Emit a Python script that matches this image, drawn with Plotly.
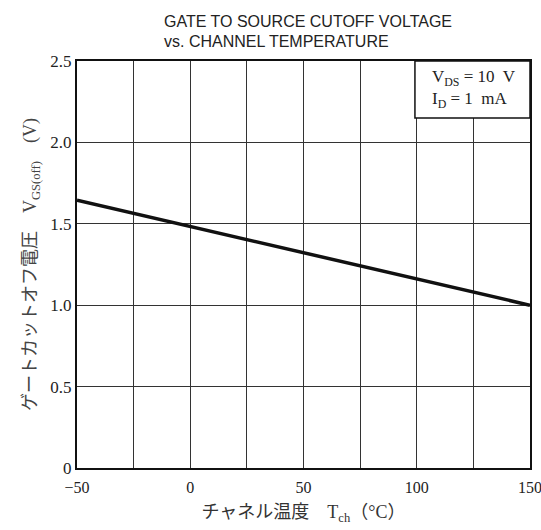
import plotly.graph_objects as go

temps = [-50, -25, 0, 25, 50, 75, 100, 125, 150]
vgs_off = [1.645, 1.565, 1.485, 1.40, 1.32, 1.24, 1.16, 1.08, 1.0]

x_ticks = [-50, 0, 50, 100, 150]
x_ticklabels = ["\u221250", "0", "50", "100", "150"]
y_ticks = [0, 0.5, 1.0, 1.5, 2.0, 2.5]
y_ticklabels = ["0", "0.5", "1.0", "1.5", "2.0", "2.5"]

title_lines = ["GATE TO SOURCE CUTOFF VOLTAGE", "vs. CHANNEL TEMPERATURE"]
x_title = "チャネル温度　T<sub>ch</sub>（°C）"
y_title = "ゲートカットオフ電圧　V<sub>GS(off)</sub>　(V)"
cond_text = "V<sub>DS</sub> = 10  V<br>I<sub>D</sub> = 1  mA"

serif = "Liberation Serif, DejaVu Serif, serif"
cjk = "Liberation Serif, Noto Sans CJK JP, serif"

fig = go.Figure()
fig.add_trace(go.Scatter(x=temps, y=vgs_off, mode="lines",
                         line=dict(color="#111111", width=3.5), showlegend=False))

fig.update_layout(
    width=541, height=530,
    margin=dict(l=77, r=11, t=61, b=62),
    paper_bgcolor="white", plot_bgcolor="white",
    xaxis=dict(range=[-50, 150], tickvals=x_ticks, ticktext=x_ticklabels,
               automargin=False, ticklabeloverflow="allow", ticklabelstandoff=4,
               showgrid=True, gridcolor="#333333", gridwidth=1,
               minor=dict(dtick=25, showgrid=True, gridcolor="#333333", gridwidth=1, tick0=-50),
               showline=True, linecolor="#111111", linewidth=2, mirror=True,
               zeroline=False, ticks="",
               tickfont=dict(family=serif, size=16, color="#222222"),
               title=dict(text=x_title, font=dict(family=cjk, size=18, color="#333333"), standoff=10)),
    yaxis=dict(range=[0, 2.5], tickvals=y_ticks, ticktext=y_ticklabels,
               automargin=False, ticklabeloverflow="allow",
               showgrid=True, gridcolor="#333333", gridwidth=1,
               showline=True, linecolor="#111111", linewidth=2, mirror=True,
               zeroline=False, ticks="",
               tickfont=dict(family=serif, size=17, color="#222222"),
               title=dict(text=y_title, font=dict(family=cjk, size=18, color="#444444"), standoff=9)),
)

# Title lines (two left-aligned lines above the plot)
fig.add_annotation(xref="paper", yref="paper", x=(162 - 77) / 453, y=1 + (61 - 22) / 407,
                   xanchor="left", yanchor="middle", text=title_lines[0], showarrow=False,
                   font=dict(family="Liberation Sans, Arial, sans-serif", size=16, color="#222222"))
fig.add_annotation(xref="paper", yref="paper", x=(162 - 77) / 453, y=1 + (61 - 41) / 407,
                   xanchor="left", yanchor="middle", text=title_lines[1], showarrow=False,
                   font=dict(family="Liberation Sans, Arial, sans-serif", size=16, color="#222222"))

fig.add_shape(type="rect", xref="paper", yref="paper", x0=0.746, x1=1.0, y0=0.86, y1=1.0,
              fillcolor="white", line=dict(color="#111111", width=1.5), layer="above")
fig.add_annotation(xref="paper", yref="paper", x=0.78, y=0.93, xanchor="left", yanchor="middle",
                   text=cond_text, showarrow=False, align="left",
                   font=dict(family=serif, size=17, color="#222222"))

fig.write_html("out.html", config={"displayModeBar": False},
               post_script="document.body.style.margin='0';document.body.style.overflow='hidden';")
